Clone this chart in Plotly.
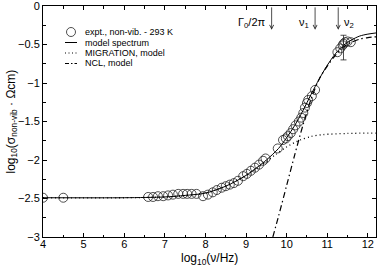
import plotly.graph_objects as go

# experimental points (log10 nu, log10 sigma)
expt_x = [4.0, 4.5, 6.59, 6.71, 6.83, 6.96, 7.08, 7.20, 7.33, 7.45, 7.55, 7.66, 7.78, 7.94,
          8.06, 8.18, 8.28, 8.40, 8.50, 8.60, 8.70, 8.80, 8.93, 9.02, 9.12, 9.22, 9.32, 9.42,
          9.48, 9.78, 9.91, 9.98, 10.03, 10.10, 10.16, 10.22, 10.30, 10.36, 10.41, 10.45,
          10.50, 10.53, 10.62, 10.70, 11.25, 11.32, 11.38, 11.44, 11.50, 11.58]
expt_y = [-2.49, -2.49, -2.48, -2.48, -2.47, -2.47, -2.46, -2.45, -2.44, -2.44, -2.44, -2.44,
          -2.44, -2.47, -2.45, -2.42, -2.39, -2.36, -2.34, -2.32, -2.30, -2.27, -2.21, -2.18,
          -2.14, -2.10, -2.06, -2.01, -1.98, -1.85, -1.74, -1.72, -1.69, -1.65, -1.60, -1.55,
          -1.50, -1.45, -1.39, -1.32, -1.26, -1.22, -1.17, -1.09, -0.60, -0.55, -0.51, -0.47,
          -0.46, -0.47]

err_x = [11.40]
err_y = [-0.49]
err_plus = [0.11]
err_minus = [0.21]

model_x = [4.0, 6.0, 7.0, 7.5, 8.0, 8.5, 9.0, 9.5, 9.8, 10.0, 10.2, 10.4, 10.6, 10.8, 11.0,
           11.2, 11.4, 11.6, 11.8, 12.0, 12.2]
model_y = [-2.49, -2.49, -2.48, -2.46, -2.43, -2.34, -2.20, -2.00, -1.85, -1.71, -1.55, -1.36,
           -1.15, -0.95, -0.77, -0.62, -0.51, -0.44, -0.39, -0.365, -0.35]

migr_x = [4.0, 6.0, 7.0, 7.5, 8.0, 8.5, 9.0, 9.4, 9.7, 10.0, 10.33, 10.6, 10.9, 11.5, 12.2]
migr_y = [-2.49, -2.49, -2.48, -2.46, -2.43, -2.34, -2.20, -2.06, -1.94, -1.83, -1.74, -1.695,
          -1.67, -1.655, -1.65]

ncl_x = [9.66, 9.8, 10.0, 10.2, 10.4, 10.6, 10.8, 11.0, 11.2, 11.4, 11.6, 11.8, 12.0, 12.2]
ncl_y = [-3.0, -2.73, -2.33, -1.93, -1.55, -1.21, -0.95, -0.78, -0.64, -0.53, -0.47, -0.43,
         -0.41, -0.40]

arrow_x = [9.63, 10.70, 11.27]
arrow_labels = ["Γ<sub>0</sub>/2π", "ν<sub>1</sub>", "ν<sub>2</sub>"]
arrow_side = ["left", "left", "right"]

legend_labels = ["expt., non-vib. - 293 K", "model spectrum", "MIGRATION, model", "NCL, model"]

FONT = "Liberation Sans, Arial, Helvetica, sans-serif"
INK = "#222"

# plot-area geometry (pixels) used for the hand-made legend
L, R, T, B = 43, 4, 6, 31
W, H = 380, 268
PW, PH = W - L - R, H - T - B


def px2paper(px, py):
    return (px - L) / PW, (H - B - py) / PH


fig = go.Figure()
fig.add_trace(go.Scatter(x=expt_x, y=expt_y, mode="markers", name=legend_labels[0],
                         showlegend=False,
                         marker=dict(symbol="circle-open", size=9, color=INK,
                                     line=dict(width=0.8, color=INK))))
fig.add_trace(go.Scatter(x=model_x, y=model_y, mode="lines", name=legend_labels[1],
                         showlegend=False,
                         line=dict(color="black", width=1, shape="spline", smoothing=0.8)))
fig.add_trace(go.Scatter(x=migr_x, y=migr_y, mode="lines", name=legend_labels[2],
                         showlegend=False,
                         line=dict(color="black", width=1.3, dash="1px,3px", shape="spline",
                                   smoothing=0.8)))
fig.add_trace(go.Scatter(x=ncl_x, y=ncl_y, mode="lines", name=legend_labels[3],
                         showlegend=False,
                         line=dict(color="black", width=1.2, dash="6px,3px,1.5px,3px",
                                   shape="spline", smoothing=0.8)))
fig.add_trace(go.Scatter(x=err_x, y=err_y, mode="markers", showlegend=False,
                         marker=dict(symbol="circle-open", size=9, color=INK,
                                     line=dict(width=0.8, color=INK)),
                         error_y=dict(type="data", array=err_plus, arrayminus=err_minus,
                                      color=INK, thickness=0.8, width=3)))

# hand-made compact legend
row_py = [32, 42.5, 53, 63.5]
sym_x0, sym_x1, txt_px = 65, 77, 83
for i, (lab, py) in enumerate(zip(legend_labels, row_py)):
    tx, ty = px2paper(txt_px, py)
    fig.add_annotation(x=tx, y=ty, xref="paper", yref="paper", text=lab, showarrow=False,
                       xanchor="left", yanchor="middle",
                       font=dict(family=FONT, size=9, color="black"))
    cx, cy = px2paper((sym_x0 + sym_x1) / 2, py)
    if i == 0:
        fig.add_shape(type="circle", xref="paper", yref="paper", xsizemode="pixel",
                      ysizemode="pixel", xanchor=cx, yanchor=cy, x0=-4.5, x1=4.5,
                      y0=-4.5, y1=4.5, line=dict(color=INK, width=0.8))
    else:
        x0, _ = px2paper(sym_x0, py)
        x1, _ = px2paper(sym_x1, py)
        dash = [None, "solid", "1px,2.5px", "4px,2px,1.5px,2px"][i]
        fig.add_shape(type="line", xref="paper", yref="paper", x0=x0, x1=x1, y0=cy, y1=cy,
                      line=dict(color="black", width=1, dash=dash))

# frequency markers: vertical arrows hanging from the top axis
for ax_, lab, side in zip(arrow_x, arrow_labels, arrow_side):
    fig.add_annotation(x=ax_, y=-0.31, xref="x", yref="y", ax=0, ay=-24,
                       showarrow=True, arrowhead=5, arrowsize=1.0, arrowwidth=0.8,
                       arrowcolor=INK, text="")
    fig.add_annotation(x=ax_, y=-0.22, xref="x", yref="y", text=lab, showarrow=False,
                       xanchor="right" if side == "left" else "left",
                       xshift=-4 if side == "left" else 4,
                       font=dict(family=FONT, size=11, color="black"))

# axis titles
fig.add_annotation(x=0.5, y=0, xref="paper", yref="paper", yshift=-12, yanchor="top",
                   text="log<sub>10</sub>(ν/Hz)", showarrow=False,
                   font=dict(family=FONT, size=12, color="black"))
fig.add_annotation(x=0, y=0.5, xref="paper", yref="paper", xshift=-22, xanchor="right",
                   text="log<sub>10</sub>(σ<sub>non-vib</sub> · Ωcm)", showarrow=False,
                   textangle=-90, font=dict(family=FONT, size=12, color="black"))

axis_common = dict(showline=True, linecolor="black", linewidth=1, mirror="ticks",
                   ticks="inside", ticklen=4, tickwidth=1, tickcolor="black",
                   showgrid=False, zeroline=False, automargin=False,
                   ticklabeloverflow="allow",
                   tickfont=dict(family=FONT, size=11, color="black"),
                   minor=dict(ticks="inside", ticklen=2.5, tickwidth=1, tickcolor="black"))

fig.update_xaxes(range=[4, 12.2], dtick=1, tick0=4, minor_dtick=0.5,
                 ticklabelstandoff=-3, **axis_common)
fig.update_yaxes(range=[-3, 0], dtick=0.5, tick0=0, minor_dtick=0.25, **axis_common)

fig.update_layout(width=W, height=H, margin=dict(l=L, r=R, t=T, b=B),
                  paper_bgcolor="white", plot_bgcolor="white",
                  font=dict(family=FONT, color="black"), showlegend=False)

fig.write_html("out.html", config={"displayModeBar": False},
               post_script="document.body.style.margin='0px';")
